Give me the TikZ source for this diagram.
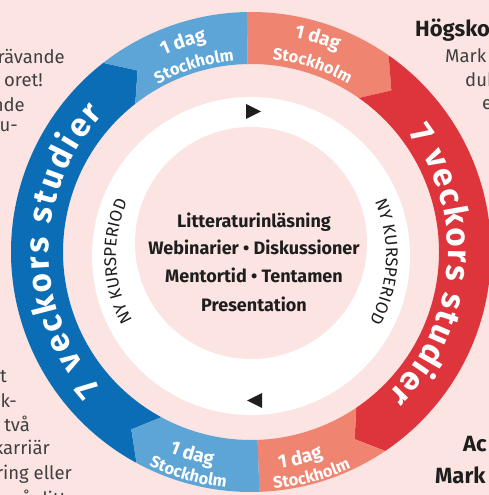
\documentclass[tikz,border=0pt]{standalone}
\usepackage{fontspec}
\setmainfont{Fira Sans}
\usetikzlibrary{decorations.text}

\definecolor{darkblue}{HTML}{0B6DB6}
\definecolor{lightblue}{HTML}{5DA4D7}
\definecolor{salmon}{HTML}{EF8470}
\definecolor{kursred}{HTML}{DE343C}
\definecolor{bgpink}{HTML}{FBE4E2}
\definecolor{ink}{HTML}{1E1E1E}

\newcommand{\studfont}{\bfseries\fontsize{33}{33}\selectfont\color{white}}
\newcommand{\dagfont}{\bfseries\fontsize{19}{19}\selectfont\color{white}}
\newcommand{\stockfont}{\bfseries\fontsize{16.5}{16.5}\selectfont\color{white}}
\newcommand{\nyfont}{\fontsize{17}{17}\selectfont\color{ink}}

\tikzset{
  side/.style={font=\fontsize{18.5}{18.5}\selectfont, text=ink!85, inner sep=0pt},
  sidebold/.style={font=\bfseries\fontsize{22}{22}\selectfont, text=ink, inner sep=0pt},
  midtext/.style={font=\bfseries\fontsize{18}{18}\selectfont, text=ink, inner sep=0pt, anchor=base},
  arctext/.style={decorate, decoration={text along path, text={#1}, text align=center}},
  fittext/.style={decorate, decoration={text along path, text={#1}, text align={fit to path}}}
}

\begin{document}
\begin{tikzpicture}[x=1pt,y=1pt]
    \useasboundingbox (0,0) rectangle (489,495);
    \clip (0,0) rectangle (489,495);
    \fill[bgpink] (0,0) rectangle (489,495);

    % outer ring, six arrow segments
    \begin{scope}[shift={(251,243)}]
    \fill[darkblue] (128:240) arc[start angle=128, end angle=241.5, radius=240pt] -- (236:214) -- (241.5:188) arc[start angle=241.5, end angle=128, radius=188pt] -- (122:214) -- cycle;
    \fill[lightblue] (91:240) arc[start angle=91, end angle=128, radius=240pt] -- (122:214) -- (128:188) arc[start angle=128, end angle=91, radius=188pt] -- cycle;
    \fill[salmon] (55:240) arc[start angle=55, end angle=91, radius=240pt] -- (91:188) arc[start angle=91, end angle=55, radius=188pt] -- (49:214) -- cycle;
    \fill[kursred] (-56:240) arc[start angle=-56, end angle=55, radius=240pt] -- (49:214) -- (55:188) arc[start angle=55, end angle=-56, radius=188pt] -- (-61:214) -- cycle;
    \fill[salmon] (-88:240) arc[start angle=-88, end angle=-56, radius=240pt] -- (-61:214) -- (-56:188) arc[start angle=-56, end angle=-88, radius=188pt] -- cycle;
    \fill[lightblue] (241.5:240) arc[start angle=241.5, end angle=272, radius=240pt] -- (272:188) arc[start angle=272, end angle=241.5, radius=188pt] -- (236:214) -- cycle;

    \path[fittext={|\studfont|7 veckors studier}] (222:202) arc[start angle=222, end angle=137, radius=202pt];
    \path[fittext={|\studfont|7 veckors studier}] (37:197) arc[start angle=37, end angle=-46, radius=197pt];

    \path[arctext={|\dagfont|1 dag}] (128:215) arc[start angle=128, end angle=88, radius=215pt];
    \path[arctext={|\stockfont|Stockholm}] (127:192) arc[start angle=127, end angle=87, radius=192pt];
    \path[arctext={|\dagfont|1 dag}] (92.7:219) arc[start angle=92.7, end angle=52.7, radius=219pt];
    \path[arctext={|\stockfont|Stockholm}] (91.8:194) arc[start angle=91.8, end angle=51.8, radius=194pt];
    \path[arctext={|\dagfont|1 dag}] (233.8:217) arc[start angle=233.8, end angle=273.8, radius=217pt];
    \path[arctext={|\stockfont|Stockholm}] (234.2:237) arc[start angle=234.2, end angle=274.2, radius=237pt];
    \path[arctext={|\dagfont|1 dag}] (263.4:218) arc[start angle=263.4, end angle=303.4, radius=218pt];
    \path[arctext={|\stockfont|Stockholm}] (265.2:238) arc[start angle=265.2, end angle=305.2, radius=238pt];
    \end{scope}

    % inner white ring
    \fill[white] (251,239) circle[radius=159pt];
    \fill[bgpink] (251,252) circle[radius=116pt];
    \begin{scope}[shift={(251,239)}]
    \path[arctext={|\nyfont|NY KURSPERIOD}] (212.5:135) arc[start angle=212.5, end angle=152.5, radius=135pt];
    \path[arctext={|\nyfont|NY KURSPERIOD}] (27.5:135) arc[start angle=27.5, end angle=-32.5, radius=135pt];
    \end{scope}
    \fill[ink] (246,391) -- (261,383.5) -- (246,376) -- cycle;
    \fill[ink] (247,94.5) -- (262,102) -- (262,87) -- cycle;

    \node[midtext] (lit) at (254,267) {Litteraturinläsning};
    \node[midtext] (web) at (254,240) {Webinarier • Diskussioner};
    \node[midtext] (men) at (254,212) {Mentortid • Tentamen};
    \node[midtext] (pre) at (254,183) {Presentation};

    % cut-off page text at the edges
    \node[side, anchor=base east] (l1) at (65,431) {rävande};
    \node[side, anchor=base east] (l2) at (43,408) {oret!};
    \node[side, anchor=base east] (l3) at (25,383) {nde};
    \node[side, anchor=base east] (l4) at (18,363) {u-};
    \node[side, anchor=base east] (b1) at (7,112) {t};
    \node[side, anchor=base east] (b2) at (17,87) {k-};
    \node[side, anchor=base east] (b3) at (30,63) {två};
    \node[side, anchor=base east] (b4) at (50,40) {karriär};
    \node[side, anchor=base east] (b5) at (72,15) {ring eller};
    \node[side, anchor=base east] (b6) at (100,-10) {nå ditt exa};
    \node[sidebold, anchor=base west] (r1) at (415,458) {Högsko};
    \node[side, anchor=base west] (r2) at (445,432) {Mark};
    \node[side, anchor=base west] (r3) at (465,408) {dub};
    \node[side, anchor=base west] (r4) at (482,385) {e};
    \node[sidebold, anchor=base west] (s1) at (463,43) {Ac};
    \node[sidebold, anchor=base west] (s2) at (435,12) {Mark};
\end{tikzpicture}
\end{document}
